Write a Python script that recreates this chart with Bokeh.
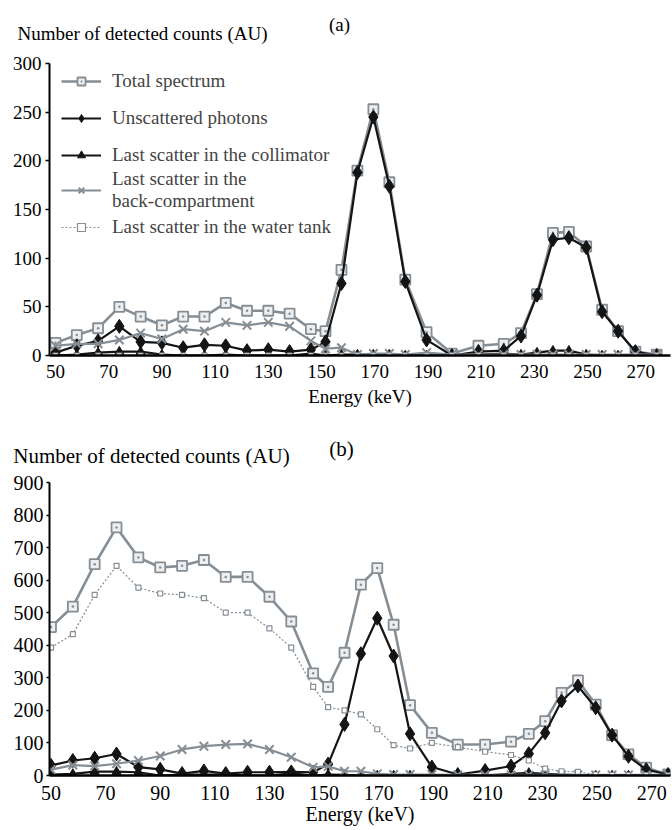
from bokeh.plotting import figure
from bokeh.models import FixedTicker, Legend, LegendItem, Range1d
from bokeh.layouts import column
from bokeh.core.properties import value
from bokeh.embed import file_html
from bokeh.resources import INLINE

# Energy bins (keV)
energy = [50, 58, 66, 74, 82, 90, 98, 106, 114, 122, 130, 138, 146, 151.5,
          157.5, 163.5, 169.5, 175.5, 181.5, 189.5, 199, 209, 218.5, 225,
          231, 237, 243, 249.5, 255.5, 261.5, 268, 276]

x_ticks = [50, 70, 90, 110, 130, 150, 170, 190, 210, 230, 250, 270]
y_ticks_a = [0, 50, 100, 150, 200, 250, 300]
y_ticks_b = [0, 100, 200, 300, 400, 500, 600, 700, 800, 900]

# Panel (a)
total_a = [13, 21, 28, 50, 40, 31, 40, 40, 54, 46, 46, 43, 27, 25,
           88, 190, 253, 178, 78, 24, 2, 10, 12, 23, 63, 126, 127, 112, 47, 25, 4, 1]
unsc_a = [3, 10, 15, 30, 14, 13, 8, 11, 10, 5, 6, 4, 6, 14,
          74, 188, 245, 174, 76, 16, 0, 4, 5, 20, 62, 119, 121, 111, 45, 25, 4, 0]
coll_a = [0, 1, 3, 4, 4, 1, 0, 0, 1, 0, 0, 0, 2, 0,
          1, 1, 1, 1, 0, 0, 0, 1, 2, 1, 3, 5, 5, 1, 0, 0, 0, 0]
back_a = [10, 12, 12, 16, 23, 17, 27, 25, 34, 31, 34, 30, 15, 7,
          8, 1, 2, 2, 1, 3, 1, 1, 1, 1, 1, 1, 1, 1, 1, 1, 1, 1]
water_a = [0, 0, 0, 0, 0, 0, 0, 0, 0, 0, 0, 0, 0, 0,
           0, 0, 0, 0, 0, 0, 0, 0, 0, 0, 0, 0, 0, 0, 0, 0, 0, 0]

# Panel (b)
total_b = [456, 519, 649, 762, 670, 639, 644, 662, 610, 610, 549, 473, 314, 272,
           377, 586, 637, 463, 216, 131, 95, 95, 104, 128, 167, 254, 292, 218, 124, 65, 24, 3]
unsc_b = [31, 46, 53, 66, 26, 19, 6, 14, 6, 10, 10, 11, 10, 35,
          157, 374, 483, 367, 128, 26, 3, 15, 29, 67, 131, 229, 275, 208, 124, 59, 18, 3]
coll_b = [3, 5, 12, 12, 10, 0, 3, 3, 3, 0, 0, 7, 0, 3,
          2, 0, 0, 0, 0, 0, 0, 0, 5, 8, 5, 3, 1, 0, 0, 0, 0, 0]
back_b = [18, 32, 29, 36, 46, 60, 80, 90, 95, 97, 80, 56, 25, 28,
          13, 13, 5, 3, 3, 3, 2, 2, 2, 2, 2, 2, 2, 2, 2, 2, 2, 2]
water_b = [393, 434, 555, 644, 577, 559, 555, 545, 500, 500, 452, 393, 272, 210,
           200, 188, 142, 93, 83, 100, 87, 73, 63, 46, 21, 13, 11, 3, 2, 1, 1, 0]

labels = ["Total spectrum", "Unscattered photons", "Last scatter in the collimator",
          "Last scatter in the\nback-compartment", "Last scatter in the water tank"]
y_title = "Number of detected counts (AU)"

FONT = "Liberation Serif"
GREY = "#868e95"
BLACK = "#141414"
BL, BR = 49, 2   # shared frame borders (column aligns frames)


def header(height, frame_h, tag, tag_x, tag_y, title_cx, title_top, fs):
    # x data range equals canvas pixels across the frame; y measured from frame bottom
    h = figure(width=672, height=height, output_backend="svg", toolbar_location=None,
               title=None, x_range=Range1d(BL, 672 - BR), y_range=Range1d(0, frame_h),
               y_axis_location=None,
               min_border_left=BL, min_border_right=BR, min_border_top=0,
               min_border_bottom=height - frame_h)
    h.outline_line_color = None
    h.grid.visible = False
    h.text(x=[tag_x], y=[frame_h - tag_y], text=[tag], text_font=value(FONT),
           text_font_size=value(fs), text_align="center", text_baseline="middle",
           text_color="black")
    # the vertical-axis title is written as the lone label of a bare axis so it
    # may reach left of the frame
    ax = h.xaxis[0]
    ax.ticker = FixedTicker(ticks=[title_cx])
    ax.major_label_overrides = {title_cx: y_title}
    ax.axis_line_color = None
    ax.major_tick_line_color = None
    ax.minor_tick_line_color = None
    ax.major_tick_out = 0
    ax.major_tick_in = 0
    ax.minor_tick_out = 0
    ax.minor_tick_in = 0
    ax.major_label_standoff = title_top - frame_h
    ax.major_label_text_font = FONT
    ax.major_label_text_font_size = fs
    ax.major_label_text_color = "black"
    return h


def add_series(p, total, unsc, coll, back, water):
    rs = []
    l = p.line(energy, total, line_color=GREY, line_width=2.6)
    m = p.scatter(energy, total, marker="square_dot", size=10, line_color=GREY,
                  fill_color="#eceef0", line_width=1.8)
    rs.append([l, m])
    l = p.line(energy, unsc, line_color=BLACK, line_width=2.2)
    m = p.scatter(energy, unsc, marker="diamond", size=14, line_color=BLACK, fill_color=BLACK)
    rs.append([l, m])
    l = p.line(energy, coll, line_color=BLACK, line_width=2.2)
    m = p.scatter(energy, coll, marker="triangle", size=9, line_color=BLACK, fill_color=BLACK)
    rs.append([l, m])
    l = p.line(energy, back, line_color=GREY, line_width=2.2)
    m = p.scatter(energy, back, marker="x", size=12, line_color=GREY, line_width=2)
    rs.append([l, m])
    l = p.line(energy, water, line_color=GREY, line_width=1.2, line_dash="2 2")
    m = p.scatter(energy, water, marker="square", size=5, line_color=GREY,
                  fill_color="white", line_width=1.2)
    rs.append([l, m])
    return rs


def make_panel(height, bt, bb, xr, yr, yticks, fs, tick_out, ystand, xstand, lstand):
    p = figure(width=672, height=height, output_backend="svg", toolbar_location=None,
               title=None, x_range=Range1d(*xr), y_range=Range1d(*yr),
               min_border_left=BL, min_border_right=BR, min_border_top=bt,
               min_border_bottom=bb)
    p.outline_line_color = None
    p.grid.visible = False

    p.yaxis.ticker = FixedTicker(ticks=yticks)
    p.yaxis.major_tick_out = tick_out
    p.yaxis.major_tick_in = 0
    p.yaxis.minor_tick_out = 0
    p.yaxis.minor_tick_in = 0
    p.yaxis.axis_line_width = 2
    p.yaxis.axis_line_color = "black"
    p.yaxis.major_tick_line_width = 1.5
    p.yaxis.major_tick_line_color = "black"
    p.yaxis.major_label_standoff = ystand
    p.yaxis.major_label_text_font = FONT
    p.yaxis.major_label_text_font_size = fs
    p.yaxis.major_label_text_color = "black"

    p.xaxis.ticker = FixedTicker(ticks=x_ticks)
    p.xaxis.major_tick_out = 0
    p.xaxis.major_tick_in = 0
    p.xaxis.minor_tick_out = 0
    p.xaxis.minor_tick_in = 0
    p.xaxis.axis_line_width = 2.5
    p.xaxis.axis_line_color = "black"
    p.xaxis.major_label_standoff = xstand
    p.xaxis.major_label_text_font = FONT
    p.xaxis.major_label_text_font_size = fs
    p.xaxis.major_label_text_color = "black"
    p.xaxis.axis_label = "Energy (keV)"
    p.xaxis.axis_label_text_font = FONT
    p.xaxis.axis_label_text_font_size = fs
    p.xaxis.axis_label_text_font_style = "normal"
    p.xaxis.axis_label_text_color = "black"
    p.xaxis.axis_label_standoff = lstand
    return p


ha = header(51, 37, "(a)", 339, 23.5, 142, 22, "19px")
pa = make_panel(369, 12, 65, (47.74, 281.2), (0, 300), y_ticks_a, "19px", 4, 4, 9, 5)
rs = add_series(pa, total_a, unsc_a, coll_a, back_a, water_a)
common = dict(glyph_width=40, glyph_height=20, label_height=20, padding=0, margin=0,
              label_standoff=11, label_text_font=FONT, label_text_font_size="19px",
              border_line_color=None, background_fill_alpha=0)
legend_top = Legend(items=[LegendItem(label=lab, renderers=r)
                           for lab, r in zip(labels[:3], rs[:3])],
                    location=(12, 189), spacing=15, **common)
legend_bot = Legend(items=[LegendItem(label=lab, renderers=r)
                           for lab, r in zip(labels[3:], rs[3:])],
                    location=(12, 117), spacing=4, **common)
pa.add_layout(legend_top)
pa.add_layout(legend_bot)

hb = header(50, 44, "(b)", 341, 30, 151, 25, "21px")
pb = make_panel(360, 12, 55, (49.45, 276.9), (0, 900), y_ticks_b, "20px", 3, 3, 10, 0)
add_series(pb, total_b, unsc_b, coll_b, back_b, water_b)

layout = column(ha, pa, hb, pb)
open("out.html", "w").write(file_html(layout, INLINE))
